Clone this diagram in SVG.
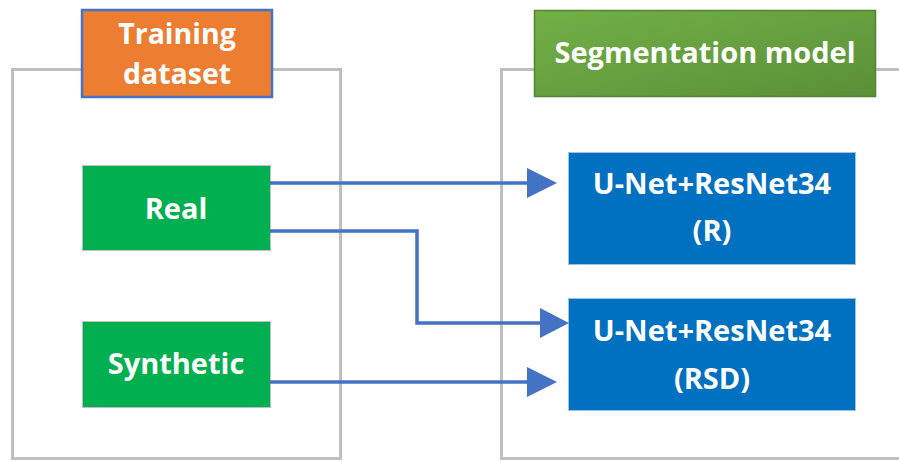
<svg xmlns="http://www.w3.org/2000/svg" width="899" height="461" viewBox="0 0 899 461">
<defs>
<linearGradient id="g" x1="0" y1="0" x2="1" y2="1">
<stop offset="0" stop-color="#72B046"/>
<stop offset="1" stop-color="#5A9038"/>
</linearGradient>
</defs>
<style>
.frame{fill:none;stroke:#BFBFBF;stroke-width:3}
.t{font-family:"Open Sans","Liberation Sans",sans-serif;font-weight:bold;fill:#fff;text-anchor:middle;font-size:29px}
.green{fill:#00B050;stroke:#BFBFBF;stroke-width:1}
.blue{fill:#0070C0;stroke:#9DC3E6;stroke-width:1}
.conn{fill:none;stroke:#4472C4;stroke-width:3.5}
.head{fill:#4472C4}
</style>
<rect x="0" y="0" width="899" height="461" fill="#fff"/>
<g id="frames">
<rect class="frame" x="12.5" y="69.5" width="328" height="389"/>
<rect class="frame" x="501.5" y="69.5" width="420" height="389"/>
</g>
<g id="training-dataset">
<rect x="82" y="10" width="190" height="87" fill="#ED7D31" stroke="#4472C4" stroke-width="2.5"/>
<text class="t" x="177" y="44" style="font-size:28.5px">Training</text>
<text class="t" x="177" y="84" style="font-size:28.5px">dataset</text>
</g>
<g id="segmentation-model">
<rect x="534.5" y="10.5" width="341" height="86" fill="url(#g)" stroke="#548235" stroke-width="1.5"/>
<text class="t" x="705" y="63">Segmentation model</text>
</g>
<g id="real">
<rect class="green" x="82.5" y="165.5" width="188" height="85"/>
<text class="t" x="176" y="219">Real</text>
</g>
<g id="synthetic">
<rect class="green" x="82.5" y="321.5" width="188" height="86"/>
<text class="t" x="176" y="374">Synthetic</text>
</g>
<g id="unet-r">
<rect class="blue" x="568.5" y="152.5" width="287" height="112"/>
<text class="t" x="712" y="194">U-Net+ResNet34</text>
<text class="t" x="712" y="241">(R)</text>
</g>
<g id="unet-rsd">
<rect class="blue" x="568.5" y="298.5" width="287" height="112"/>
<text class="t" x="712" y="341">U-Net+ResNet34</text>
<text class="t" x="712" y="389">(RSD)</text>
</g>
<g id="connectors">
<polyline class="conn" points="270,183 530,183"/>
<path class="head" d="M527,168 L557,183 L527,198 Z"/>
<polyline class="conn" points="270,231 417,231 417,323 542,323"/>
<path class="head" d="M540,308 L569,323 L540,338 Z"/>
<polyline class="conn" points="270,382 530,382"/>
<path class="head" d="M527,367 L557,382 L527,397 Z"/>
</g>
</svg>
